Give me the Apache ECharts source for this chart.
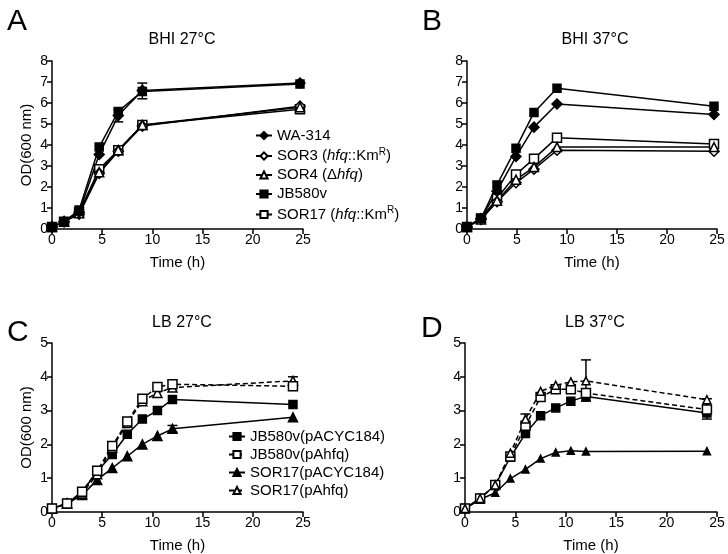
<!DOCTYPE html>
<html>
<head>
<meta charset="utf-8">
<script src="https://cdn.jsdelivr.net/npm/echarts@6/dist/echarts.min.js"></script>
<style>
  html, body { margin: 0; padding: 0; background: #fff; }
  #chart { width: 728px; height: 554px; }
</style>
</head>
<body>
<div id="chart"></div>
<script>
// time points (h)
const tA = [0, 1.2, 2.7, 4.7, 6.6, 9, 24.7];
const tB = [0, 1.4, 3, 4.9, 6.7, 9, 24.7];
const tLB = [0, 1.5, 3, 4.5, 6, 7.5, 9, 10.5, 12, 24];

const bhiNames = ['WA-314', 'SOR3 (hfq::KmR)', 'SOR4 (Δhfq)', 'JB580v', 'SOR17 (hfq::KmR) '];
const lbNames = ['JB580v(pACYC184)', 'JB580v(pAhfq)', 'SOR17(pACYC184)', 'SOR17(pAhfq)'];

// BHI 27°C
const aWA = [0.1, 0.35, 0.8, 3.55, 5.4, 6.6, 6.95];
const aSOR3 = [0.1, 0.35, 0.7, 2.65, 3.7, 4.9, 5.85];
const aSOR4 = [0.1, 0.35, 0.75, 2.7, 3.75, 4.95, 5.8];
const aJB = [0.1, 0.35, 0.9, 3.9, 5.6, 6.55, 6.9];
const aSOR17 = [0.1, 0.35, 0.8, 2.85, 3.75, 4.95, 5.7];
const errA = [[6.6, 5.1, 5.7], [9, 6.2, 6.95]];

// BHI 37°C
const bWA = [0.1, 0.5, 1.8, 3.45, 4.85, 5.95, 5.45];
const bSOR3 = [0.1, 0.45, 1.3, 2.2, 2.85, 3.75, 3.7];
const bSOR4 = [0.1, 0.45, 1.35, 2.35, 2.95, 3.9, 3.9];
const bJB = [0.1, 0.5, 2.1, 3.85, 5.55, 6.7, 5.85];
const bSOR17 = [0.1, 0.5, 1.45, 2.6, 3.35, 4.35, 4.05];

// LB 27°C
const cJBp = [0.1, 0.25, 0.6, 1.2, 1.7, 2.3, 2.75, 3.0, 3.33, 3.18];
const cJBh = [0.1, 0.25, 0.6, 1.22, 1.95, 2.68, 3.35, 3.7, 3.78, 3.72];
const cSORp = [0.1, 0.25, 0.5, 0.95, 1.3, 1.65, 2.0, 2.25, 2.46, 2.8];
const cSORh = [0.1, 0.25, 0.55, 1.12, 1.9, 2.63, 3.28, 3.52, 3.68, 3.88];
const errC = [[12, 2.36, 2.56], [24, 3.75, 4.0]];

// LB 37°C
const dJBp = [0.1, 0.4, 0.8, 1.62, 2.32, 2.85, 3.08, 3.28, 3.42, 2.93];
const dJBh = [0.1, 0.4, 0.8, 1.64, 2.55, 3.4, 3.63, 3.63, 3.52, 3.03];
const dSORp = [0.1, 0.37, 0.57, 0.99, 1.26, 1.58, 1.76, 1.81, 1.79, 1.8];
const dSORh = [0.1, 0.4, 0.8, 1.74, 2.75, 3.57, 3.75, 3.85, 3.88, 3.32];
const errD = [[6, 2.6, 2.9], [12, 3.28, 4.5], [24, 2.75, 3.35]];

const FONT = 'Liberation Sans, Arial, sans-serif';
const chart = echarts.init(document.getElementById('chart'));

const zip = (t, v) => t.map((x, i) => [x, v[i]]);

// marker styles: [symbol, filled, size]
const styleOf = {
  'WA-314': ['diamond', true, 10],
  'SOR3 (hfq::KmR)': ['diamond', false, 10],
  'SOR4 (Δhfq)': ['triangle', false, 9],
  'JB580v': ['rect', true, 8],
  'SOR17 (hfq::KmR) ': ['rect', false, 9],
  'JB580v(pACYC184)': ['rect', true, 8],
  'JB580v(pAhfq)': ['rect', false, 9],
  'SOR17(pACYC184)': ['triangle', true, 9],
  'SOR17(pAhfq)': ['triangle', false, 9]
};

function line(name, idx, t, v, dashed, size) {
  const s = styleOf[name];
  return {
    name: name, type: 'line', xAxisIndex: idx, yAxisIndex: idx,
    data: zip(t, v), symbol: s[0], symbolSize: size || s[2],
    showAllSymbol: true, animation: false,
    lineStyle: { color: '#000', width: 1.5, type: dashed ? [5, 3] : 'solid' },
    itemStyle: { color: s[1] ? '#000' : '#fff', borderColor: '#000', borderWidth: 1.5 },
    emphasis: { disabled: true }
  };
}

function errBars(idx, data) {
  return {
    type: 'custom', xAxisIndex: idx, yAxisIndex: idx, data: data, z: 1,
    animation: false, silent: true,
    encode: { x: 0, y: [1, 2] },
    renderItem: function (params, api) {
      const lo = api.coord([api.value(0), api.value(1)]);
      const hi = api.coord([api.value(0), api.value(2)]);
      const st = { stroke: '#000', lineWidth: 1.5 };
      return {
        type: 'group', children: [
          { type: 'line', shape: { x1: lo[0], y1: lo[1], x2: hi[0], y2: hi[1] }, style: st },
          { type: 'line', shape: { x1: lo[0] - 5, y1: lo[1], x2: lo[0] + 5, y2: lo[1] }, style: st },
          { type: 'line', shape: { x1: hi[0] - 5, y1: hi[1], x2: hi[0] + 5, y2: hi[1] }, style: st }
        ]
      };
    }
  };
}

const axisCommon = {
  axisLine: { show: true, lineStyle: { color: '#000', width: 1.5 } },
  axisTick: { show: true, length: 5, lineStyle: { color: '#000', width: 1.5 } },
  axisLabel: { color: '#000', fontSize: 14, fontFamily: FONT, margin: 4 },
  splitLine: { show: false },
  nameTextStyle: { color: '#000', fontSize: 15, fontFamily: FONT }
};

function xAx(idx) {
  return Object.assign({}, axisCommon, {
    type: 'value', gridIndex: idx, min: 0, max: 25, interval: 5,
    name: 'Time (h)', nameLocation: 'middle', nameGap: 26
  });
}
function yAx(idx, max, named) {
  return Object.assign({}, axisCommon, {
    type: 'value', gridIndex: idx, min: 0, max: max, interval: 1,
    name: named ? 'OD(600 nm)' : '', nameLocation: 'middle', nameGap: 18
  });
}

function legendFmt(name) {
  const map = {
    'SOR3 (hfq::KmR)': '{n|SOR3 (}{i|hfq}{n|::Km}{s|R}{n|)}',
    'SOR4 (Δhfq)': '{n|SOR4 (Δ}{i|hfq}{n|)}',
    'SOR17 (hfq::KmR) ': '{n|SOR17 (}{i|hfq}{n|::Km}{s|R}{n|)}'
  };
  return map[name] || '{n|' + name + '}';
}
const legendRich = {
  n: { fontSize: 15, fontFamily: FONT, color: '#000' },
  i: { fontSize: 15, fontFamily: FONT, color: '#000', fontStyle: 'italic' },
  s: { fontSize: 10, fontFamily: FONT, color: '#000', verticalAlign: 'top', padding: [0, 0, 8, 0] }
};

const titleStyle = { color: '#000', fontSize: 16, fontWeight: 'normal', fontFamily: FONT };
const letterStyle = { color: '#000', fontSize: 30, fontWeight: 'normal', fontFamily: FONT };

chart.setOption({
  backgroundColor: '#fff',
  textStyle: { fontFamily: FONT },
  title: [
    { text: 'A', left: 2, top: 2, textStyle: letterStyle },
    { text: 'B', left: 417, top: 2, textStyle: letterStyle },
    { text: 'C', left: 2, top: 313, textStyle: letterStyle },
    { text: 'D', left: 416, top: 309, textStyle: letterStyle },
    { text: 'BHI 27°C', left: 177, top: 27, textAlign: 'center', textStyle: titleStyle },
    { text: 'BHI 37°C', left: 590, top: 27, textAlign: 'center', textStyle: titleStyle },
    { text: 'LB 27°C', left: 177, top: 310, textAlign: 'center', textStyle: titleStyle },
    { text: 'LB 37°C', left: 590, top: 310, textAlign: 'center', textStyle: titleStyle }
  ],
  legend: [
    {
      data: bhiNames, orient: 'vertical', left: 250, top: 123,
      itemWidth: 16, itemHeight: 9, itemGap: 4,
      formatter: legendFmt, textStyle: { rich: legendRich }
    },
    {
      data: lbNames, orient: 'vertical', left: 223, top: 424,
      itemWidth: 16, itemHeight: 9, itemGap: 3,
      formatter: legendFmt, textStyle: { rich: legendRich }
    }
  ],
  grid: [
    { left: 52, top: 61, width: 251, height: 168 },
    { left: 467, top: 61, width: 250, height: 168 },
    { left: 52, top: 343, width: 251, height: 169 },
    { left: 465, top: 343, width: 252, height: 169 }
  ],
  xAxis: [xAx(0), xAx(1), xAx(2), xAx(3)],
  yAxis: [yAx(0, 8, true), yAx(1, 8, false), yAx(2, 5, true), yAx(3, 5, false)],
  series: [
    errBars(0, errA),
    line(bhiNames[4], 0, tA, aSOR17),
    line(bhiNames[1], 0, tA, aSOR3),
    line(bhiNames[2], 0, tA, aSOR4),
    line(bhiNames[0], 0, tA, aWA),
    line(bhiNames[3], 0, tA, aJB),

    line(bhiNames[4], 1, tB, bSOR17),
    line(bhiNames[1], 1, tB, bSOR3),
    line(bhiNames[2], 1, tB, bSOR4),
    line(bhiNames[0], 1, tB, bWA),
    line(bhiNames[3], 1, tB, bJB),

    errBars(2, errC),
    line(lbNames[2], 2, tLB, cSORp),
    line(lbNames[0], 2, tLB, cJBp),
    line(lbNames[3], 2, tLB, cSORh, true),
    line(lbNames[1], 2, tLB, cJBh, true),

    errBars(3, errD),
    line(lbNames[2], 3, tLB, dSORp, false, 7),
    line(lbNames[0], 3, tLB, dJBp),
    line(lbNames[1], 3, tLB, dJBh, true),
    line(lbNames[3], 3, tLB, dSORh, true, 8)
  ]
});
</script>
</body>
</html>
